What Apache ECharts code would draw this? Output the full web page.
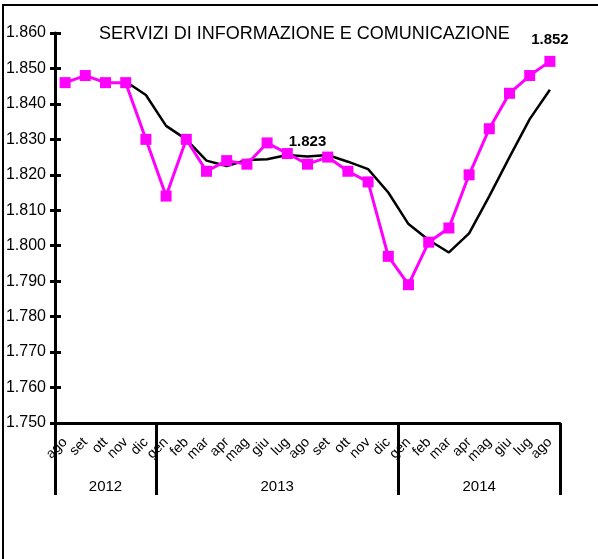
<!DOCTYPE html>
<html>
<head>
<meta charset="utf-8">
<script src="https://cdn.jsdelivr.net/npm/echarts@6/dist/echarts.min.js"></script>
<style>
  html, body { margin: 0; padding: 0; background: #fff; }
  #chart { width: 598px; height: 559px; }
</style>
</head>
<body>
<div id="chart"></div>
<script>
// mesi da ago 2012 a ago 2014
const months = ['ago', 'set', 'ott', 'nov', 'dic',
  'gen', 'feb', 'mar', 'apr', 'mag', 'giu', 'lug', 'ago', 'set', 'ott', 'nov', 'dic',
  'gen', 'feb', 'mar', 'apr', 'mag', 'giu', 'lug', 'ago'];
const years = ['2012', '2013', '2014'];

// dati mensili (migliaia)
const monthly = [1.846, 1.848, 1.846, 1.846, 1.830,
  1.814, 1.830, 1.821, 1.824, 1.823, 1.829, 1.826, 1.823, 1.825, 1.821, 1.818, 1.797,
  1.789, 1.801, 1.805, 1.820, 1.833, 1.843, 1.848, 1.852];

// media mobile (parte da nov 2012)
const trend = [null, null, null, 1.8463, 1.8425,
  1.8338, 1.8300, 1.8240, 1.8225, 1.8242, 1.8244, 1.8256, 1.8252, 1.8256, 1.8237, 1.8216, 1.8150,
  1.8061, 1.8016, 1.7981, 1.8035, 1.8140, 1.8250, 1.8357, 1.8440];

// punti con etichetta del valore
const labelled = [12, 24];

const yMin = 1.75;
const yMax = 1.86;
const yStep = 0.01;

const font = 'Liberation Sans, Arial, sans-serif';

// confini degli anni sull'asse (in numero di mesi)
const bounds = [0];
months.forEach((m, i) => { if (m === 'gen') bounds.push(i); });
bounds.push(months.length);
const mids = years.map((y, i) => (bounds[i] + bounds[i + 1]) / 2);

const chart = echarts.init(document.getElementById('chart'), null, { renderer: 'canvas' });

const option = {
  backgroundColor: '#fff',
  animation: false,
  textStyle: { fontFamily: font, color: '#000' },
  title: {
    text: 'SERVIZI DI INFORMAZIONE E COMUNICAZIONE',
    left: 94,
    top: 20,
    textStyle: { fontFamily: font, fontSize: 18, fontWeight: 'normal', color: '#000' }
  },
  graphic: [{
    type: 'rect',
    shape: { x: 3, y: 5, width: 800, height: 800 },
    style: { fill: 'none', stroke: '#000', lineWidth: 2 },
    silent: true,
    z: -1
  }],
  grid: { left: 55, right: 38, top: 33, bottom: 136, containLabel: false },
  xAxis: [{
    type: 'category',
    data: months,
    boundaryGap: true,
    axisLine: { show: true, lineStyle: { color: '#000', width: 3 } },
    axisTick: { show: false },
    axisLabel: {
      rotate: 45,
      interval: 0,
      margin: 17,
      fontSize: 14,
      fontFamily: font,
      color: '#000'
    },
    splitLine: { show: false }
  }, {
    type: 'value',
    position: 'bottom',
    min: 0,
    max: months.length,
    axisLine: { show: false },
    axisTick: {
      show: true,
      customValues: bounds,
      length: 72,
      lineStyle: { color: '#000', width: 3 }
    },
    axisLabel: {
      customValues: mids,
      margin: 56,
      fontSize: 15,
      fontFamily: font,
      color: '#000',
      formatter: (v) => years[mids.indexOf(v)]
    },
    splitLine: { show: false }
  }],
  yAxis: [{
    type: 'value',
    min: yMin,
    max: yMax,
    interval: yStep,
    axisLine: { show: true, lineStyle: { color: '#000', width: 3 } },
    axisTick: { show: true, length: 5, lineStyle: { color: '#000', width: 3 } },
    axisLabel: {
      margin: 9,
      fontSize: 16,
      fontFamily: font,
      color: '#000',
      formatter: (v) => v.toFixed(3)
    },
    splitLine: { show: false }
  }, {
    type: 'value',
    position: 'left',
    min: yMin,
    max: yMax,
    interval: yStep,
    axisLine: { show: false },
    axisTick: { show: true, inside: true, length: 6, lineStyle: { color: '#000', width: 3 } },
    axisLabel: { show: false },
    splitLine: { show: false }
  }],
  series: [{
    name: 'mensile',
    type: 'line',
    data: monthly.map((v, i) => labelled.includes(i)
      ? { value: v, label: { show: true } }
      : v),
    symbol: 'rect',
    symbolSize: 11,
    lineStyle: { color: '#ff00ff', width: 3 },
    itemStyle: { color: '#ff00ff' },
    label: {
      show: false,
      position: 'top',
      distance: 9,
      fontFamily: font,
      fontSize: 15,
      fontWeight: 'bold',
      color: '#000',
      formatter: (p) => p.value.toFixed(3)
    },
    z: 3
  }, {
    name: 'media',
    type: 'line',
    data: trend.map(v => v === null ? '-' : v),
    symbol: 'none',
    lineStyle: { color: '#000', width: 2.5 },
    z: 2
  }]
};

chart.setOption(option);
</script>
</body>
</html>
